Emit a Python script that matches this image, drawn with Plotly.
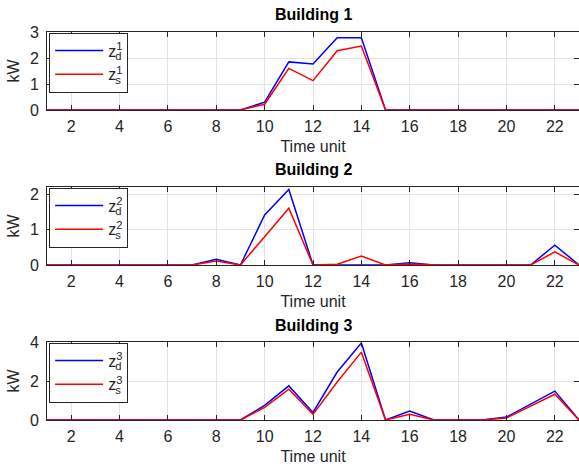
import plotly.graph_objects as go

time_unit = list(range(1, 24))
b1_zd = [0, 0, 0, 0, 0, 0, 0, 0, 0, 0.30, 1.85, 1.77, 2.78, 2.78, 0, 0, 0, 0, 0, 0, 0, 0, 0]
b1_zs = [0, 0, 0, 0, 0, 0, 0, 0, 0, 0.22, 1.60, 1.13, 2.28, 2.46, 0, 0, 0, 0, 0, 0, 0, 0, 0]
b2_zd = [0, 0, 0, 0, 0, 0, 0, 0.16, 0, 1.41, 2.13, 0, 0, 0, 0, 0.06, 0, 0, 0, 0, 0, 0.56, 0]
b2_zs = [0, 0, 0, 0, 0, 0, 0, 0.11, 0, 0.80, 1.60, 0, 0.02, 0.25, 0, 0.03, 0, 0, 0, 0, 0, 0.37, 0]
b3_zd = [0, 0, 0, 0, 0, 0, 0, 0, 0, 0.75, 1.75, 0.39, 2.46, 3.95, 0, 0.46, 0, 0, 0, 0.15, 0.80, 1.48, 0]
b3_zs = [0, 0, 0, 0, 0, 0, 0, 0, 0, 0.65, 1.58, 0.29, 1.95, 3.48, 0, 0.29, 0, 0, 0, 0.10, 0.72, 1.32, 0]

titles = ["Building 1", "Building 2", "Building 3"]
y_ranges = [[0, 3], [0, 2.2], [0, 4]]
y_ticks = [[0, 1, 2, 3], [0, 1, 2], [0, 2, 4]]
x_ticks = list(range(2, 24, 2))
series = [(b1_zd, b1_zs), (b2_zd, b2_zs), (b3_zd, b3_zs)]

W, H = 579, 470
# pixel rows (top, bottom) of each plot area
rows_px = [(32, 110), (187, 265), (342, 420)]

FONT = "Liberation Sans, Arial, sans-serif"
BLUE = "#0000ff"
RED = "#ff0000"


def label(n, sub):
    return f"z<sup><span style='letter-spacing:-7px'>{n}</span></sup><sub>{sub}</sub>"


fig = go.Figure()
legend_names = ["legend", "legend2", "legend3"]
for i, (zd, zs) in enumerate(series):
    n = i + 1
    xa = "x" if n == 1 else f"x{n}"
    ya = "y" if n == 1 else f"y{n}"
    fig.add_trace(go.Scatter(x=time_unit, y=zd, mode="lines", line=dict(color=BLUE, width=1.5),
                             name=label(n, "d"), xaxis=xa, yaxis=ya,
                             legend=legend_names[i]))
    fig.add_trace(go.Scatter(x=time_unit, y=zs, mode="lines", line=dict(color=RED, width=1.5),
                             name=label(n, "s"), xaxis=xa, yaxis=ya,
                             legend=legend_names[i]))

layout = dict(
    width=W, height=H,
    margin=dict(l=47, r=0, t=0, b=0, autoexpand=False),
    paper_bgcolor="white", plot_bgcolor="white",
    font=dict(family=FONT, size=16, color="#262626"),
    showlegend=True,
    annotations=[],
)

for i in range(3):
    n = i + 1
    top, bot = rows_px[i]
    dom = [1 - bot / H, 1 - top / H]
    xkey = "xaxis" if n == 1 else f"xaxis{n}"
    ykey = "yaxis" if n == 1 else f"yaxis{n}"
    layout[xkey] = dict(
        domain=[0, 1], range=[1, 23], anchor="y" if n == 1 else f"y{n}",
        tickvals=x_ticks, ticks="inside", ticklen=5, tickcolor="#262626",
        showline=True, linecolor="#262626", linewidth=1, mirror="allticks",
        showgrid=True, gridcolor="#e3e3e3", gridwidth=1, zeroline=False,
        automargin=False, ticklabelstandoff=2,
        title=dict(text="Time unit", standoff=6, font=dict(size=16)),
        tickfont=dict(size=16),
    )
    layout[ykey] = dict(
        domain=dom, range=y_ranges[i], anchor="x" if n == 1 else f"x{n}",
        tickvals=y_ticks[i], ticks="inside", ticklen=5, tickcolor="#262626",
        showline=True, linecolor="#262626", linewidth=1, mirror="allticks",
        showgrid=True, gridcolor="#e3e3e3", gridwidth=1, zeroline=False,
        automargin=False, ticklabelstandoff=4,
        title=dict(text="kW", standoff=6, font=dict(size=16)),
        tickfont=dict(size=16),
    )
    layout["annotations"].append(dict(
        text=f"<b>{titles[i]}</b>", x=0.5, xref="paper", y=1 - (top - 17) / H, yref="paper",
        xanchor="center", yanchor="middle", showarrow=False, font=dict(size=16, color="black"),
    ))
    layout[legend_names[i]] = dict(
        x=0.004, y=1 - (top + 0.5) / H, xref="paper", yref="paper",
        xanchor="left", yanchor="top", bgcolor="white", bordercolor="#262626", borderwidth=1,
        itemwidth=48, font=dict(size=16, color="#262626"), tracegroupgap=0,
    )

fig.update_layout(**layout)
fig.write_html("out.html")
